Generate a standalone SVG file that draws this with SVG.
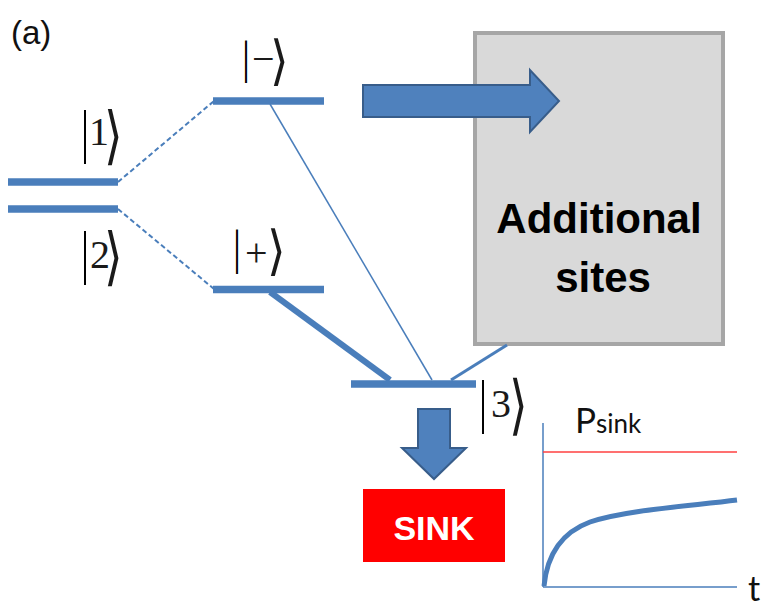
<svg xmlns="http://www.w3.org/2000/svg" width="768" height="609" viewBox="0 0 768 609">
  <defs>
    <style>
      .level { stroke: #4a7ebb; stroke-width: 7.5; fill: none; }
      .link { stroke: #4a7ebb; fill: none; }
      .dash { stroke: #4a7ebb; stroke-width: 2; stroke-dasharray: 5 3; fill: none; }
      .bar { font-family: "Liberation Serif", "DejaVu Serif", serif; font-size: 40px; fill: #000; text-anchor: middle; }
      .ket { font-family: "Liberation Serif", "DejaVu Serif", serif; font-size: 40px; fill: #1a1a1a; }
      .ang { font-family: "DejaVu Serif", "DejaVu Sans", serif; font-size: 48px; fill: #1a1a1a; }
      .bigarrow { fill: #4f81bd; stroke: #385d8a; stroke-width: 2; }
      .label { font-family: "Liberation Sans", Arial, sans-serif; }
      .plot { font-family: Lato, "Liberation Sans", sans-serif; fill: #111; }
    </style>
  </defs>

  <rect width="768" height="609" fill="#fff"/>

  <text class="label" x="11" y="44" font-size="33" fill="#111">(a)</text>

  <!-- additional sites block -->
  <g id="additional-sites">
    <rect x="475" y="33" width="248" height="311" fill="#d9d9d9" stroke="#a6a6a6" stroke-width="4"/>
    <text class="label" x="599" y="233" font-size="42" font-weight="bold" text-anchor="middle" fill="#000">Additional</text>
    <text class="label" x="603" y="292" font-size="42" font-weight="bold" text-anchor="middle" fill="#000">sites</text>
  </g>

  <!-- connectors -->
  <g id="connectors">
    <line class="dash" x1="118" y1="182" x2="214" y2="101"/>
    <line class="dash" x1="118" y1="209" x2="214" y2="289"/>
    <line class="link" x1="270" y1="104" x2="432" y2="380" stroke-width="1.5"/>
    <line class="link" x1="270" y1="292" x2="390" y2="380" stroke-width="6"/>
    <line class="link" x1="507" y1="345" x2="451" y2="380" stroke-width="3"/>
    <!-- transfer to the additional sites -->
    <polygon class="bigarrow" points="363,85 530,85 530,70 559,101 530,132 530,117 363,117"/>
    <!-- transfer to the sink -->
    <polygon class="bigarrow" points="418,409 450,409 450,448 466,448 434,479 402,448 418,448"/>
  </g>

  <!-- energy levels -->
  <g id="level-1">
    <line class="level" x1="8" y1="182" x2="118" y2="182"/>
    <text class="bar" transform="translate(85,151.1) scale(1,1.47)">|</text>
    <text class="ket" x="89" y="145">1</text>
    <text class="ang" transform="translate(104,156.6) scale(1,1.32)">⟩</text>
  </g>
  <g id="level-2">
    <line class="level" x1="8" y1="209" x2="118" y2="209"/>
    <text class="bar" transform="translate(85,272.1) scale(1,1.47)">|</text>
    <text class="ket" x="90" y="268">2</text>
    <text class="ang" transform="translate(104,277.6) scale(1,1.32)">⟩</text>
  </g>
  <g id="level-minus">
    <line class="level" x1="213" y1="101" x2="324" y2="101"/>
    <text class="bar" transform="translate(246,73.4) scale(1,1.17)">|</text>
    <text class="ket" x="252" y="72">−</text>
    <text class="ang" transform="translate(270,78.5) scale(1,1.12)">⟩</text>
  </g>
  <g id="level-plus">
    <line class="level" x1="213" y1="289.5" x2="324" y2="289.5"/>
    <text class="bar" transform="translate(237,264.2) scale(1,1.19)">|</text>
    <text class="ket" x="245" y="266">+</text>
    <text class="ang" transform="translate(267,268.5) scale(1,1.12)">⟩</text>
  </g>
  <g id="level-3">
    <line class="level" x1="351" y1="384" x2="476" y2="384"/>
    <text class="bar" transform="translate(483,420.9) scale(1,1.5)">|</text>
    <text class="ket" x="491" y="417">3</text>
    <text class="ang" transform="translate(509,426.5) scale(1,1.36)">⟩</text>
  </g>

  <!-- sink -->
  <g id="sink">
    <rect x="363" y="489" width="142" height="73" fill="#ff0000"/>
    <text class="label" x="434" y="540" font-size="34" font-weight="bold" text-anchor="middle" fill="#fff">SINK</text>
  </g>

  <!-- sink population versus time -->
  <g id="plot">
    <line x1="543" y1="423" x2="543" y2="587" stroke="#4a7ebb" stroke-width="1.5"/>
    <line x1="543" y1="587" x2="737" y2="587" stroke="#4a7ebb" stroke-width="1.5"/>
    <line x1="543" y1="452" x2="737" y2="452" stroke="#ff4040" stroke-width="1.5"/>
    <path d="M544,586 C547,556 560,533 590,522 C625,510 690,506 737,500" fill="none" stroke="#4a7ebb" stroke-width="5"/>
    <text class="plot" x="575" y="433" font-size="35">P<tspan font-size="26">sink</tspan></text>
    <text class="plot" x="748" y="601" font-size="34">t</text>
  </g>
</svg>
